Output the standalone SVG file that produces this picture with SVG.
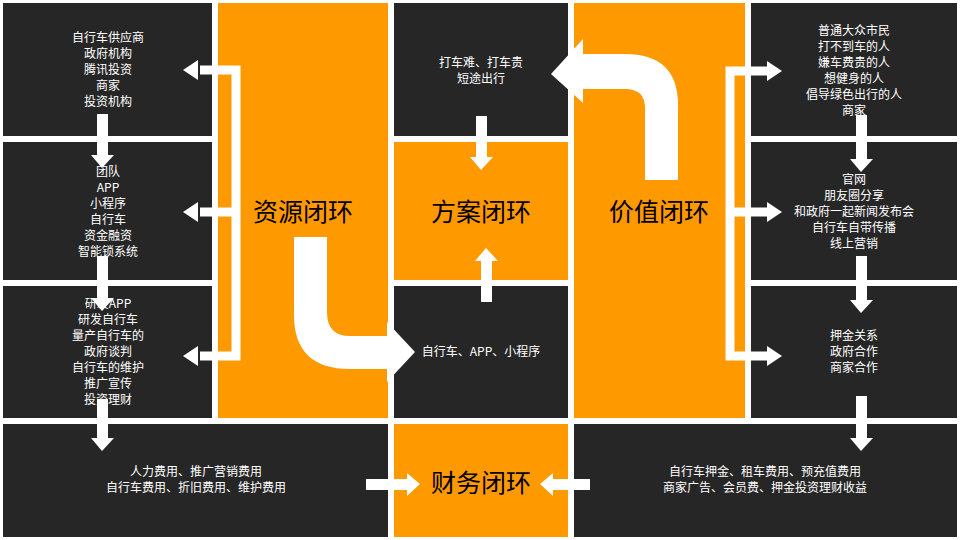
<svg xmlns="http://www.w3.org/2000/svg" width="960" height="540" viewBox="0 0 960 540">
<style>
.d{fill:#262626}.o{fill:#ff9900}
.t{font-family:"Noto Sans CJK SC","Liberation Sans",sans-serif;font-size:12px;fill:#fff;text-anchor:middle}
.h{font-family:"Noto Sans CJK SC","Liberation Sans",sans-serif;font-size:25px;fill:#000;text-anchor:middle}
.w{fill:#fff}.ln{fill:none;stroke:#fff;stroke-width:9}
</style>
<rect width="960" height="540" fill="#fff"/>
<g id="cells">
<rect class="d" x="3" y="3" width="209" height="133"/>
<rect class="d" x="3" y="142" width="209" height="138"/>
<rect class="d" x="3" y="286" width="209" height="132"/>
<rect class="o" x="218" y="3" width="170" height="415"/>
<rect class="d" x="394" y="3" width="174" height="133"/>
<rect class="o" x="394" y="142" width="174" height="138"/>
<rect class="d" x="394" y="286" width="174" height="132"/>
<rect class="o" x="574" y="3" width="171" height="415"/>
<rect class="d" x="751" y="3" width="206" height="133"/>
<rect class="d" x="751" y="142" width="206" height="138"/>
<rect class="d" x="751" y="286" width="206" height="132"/>
<rect class="d" x="3" y="424" width="385" height="113"/>
<rect class="o" x="394" y="424" width="174" height="113"/>
<rect class="d" x="574" y="424" width="383" height="113"/>
</g>
<g id="connectors">
<polyline class="ln" points="200,70 236,70 236,356 200,356"/><line class="ln" x1="200" y1="212" x2="236" y2="212"/>
<polygon class="w" points="183,70 198,60 198,80"/><polygon class="w" points="183,212 198,202 198,222"/><polygon class="w" points="183,356 198,346 198,366"/>
<polyline class="ln" points="767,71 730,71 730,356 767,356"/><line class="ln" x1="730" y1="212" x2="767" y2="212"/>
<polygon class="w" points="782,71 767,61 767,81"/><polygon class="w" points="782,212 767,202 767,222"/><polygon class="w" points="782,356 767,346 767,366"/>
<g class="w">
<rect x="97" y="114" width="11" height="42"/><polygon points="91,155 114,155 102,168"/>
<rect x="97" y="256" width="11" height="44"/><polygon points="91,298 114,298 102,311"/>
<rect x="97" y="399" width="11" height="40"/><polygon points="91,438 114,438 102,451"/>
<rect x="856" y="115" width="11" height="45"/><polygon points="850,159 873,159 861,172"/>
<rect x="856" y="256" width="11" height="45"/><polygon points="850,300 873,300 861,313"/>
<rect x="856" y="396" width="11" height="43"/><polygon points="850,438 873,438 861,451"/>
<rect x="476" y="116" width="11" height="42"/><polygon points="470,157 493,157 481,170"/>
<rect x="481" y="260" width="11" height="42"/><polygon points="475,261 498,261 486,248"/>
<rect x="366" y="479" width="42" height="11"/><polygon points="407,473 407,496 420,484"/>
<rect x="552" y="479" width="38" height="11"/><polygon points="553,473 553,496 540,484"/>
<path d="M294,237 H327 V312 Q327,336 350,336 H387 V322 L415,352 L387,382 V369 H350 Q294,369 294,315 Z"/>
<path d="M645,180 H678 V105 Q678,54 625,54 H583 V39 L551,74 L583,103 V89 H625 Q645,89 645,108 Z"/>
</g>
</g>
<g id="labels">
<text class="t" x="108" y="42">自行车供应商<tspan x="108" dy="16">政府机构</tspan><tspan x="108" dy="16">腾讯投资</tspan><tspan x="108" dy="16">商家</tspan><tspan x="108" dy="16">投资机构</tspan></text>
<text class="t" x="108" y="176">团队<tspan x="108" dy="16">APP</tspan><tspan x="108" dy="16">小程序</tspan><tspan x="108" dy="16">自行车</tspan><tspan x="108" dy="16">资金融资</tspan><tspan x="108" dy="16">智能锁系统</tspan></text>
<text class="t" x="108" y="308">研发APP<tspan x="108" dy="16">研发自行车</tspan><tspan x="108" dy="16">量产自行车的</tspan><tspan x="108" dy="16">政府谈判</tspan><tspan x="108" dy="16">自行车的维护</tspan><tspan x="108" dy="16">推广宣传</tspan><tspan x="108" dy="16">投资理财</tspan></text>
<text class="t" x="481" y="67">打车难、打车贵<tspan x="481" dy="16">短途出行</tspan></text>
<text class="t" x="481" y="356">自行车、APP、小程序</text>
<text class="t" x="854" y="35">普通大众市民<tspan x="854" dy="16">打不到车的人</tspan><tspan x="854" dy="16">嫌车费贵的人</tspan><tspan x="854" dy="16">想健身的人</tspan><tspan x="854" dy="16">倡导绿色出行的人</tspan><tspan x="854" dy="16">商家</tspan></text>
<text class="t" x="854" y="184">官网<tspan x="854" dy="16">朋友圈分享</tspan><tspan x="854" dy="16">和政府一起新闻发布会</tspan><tspan x="854" dy="16">自行车自带传播</tspan><tspan x="854" dy="16">线上营销</tspan></text>
<text class="t" x="854" y="340">押金关系<tspan x="854" dy="16">政府合作</tspan><tspan x="854" dy="16">商家合作</tspan></text>
<text class="t" x="196" y="476">人力费用、推广营销费用<tspan x="196" dy="16">自行车费用、折旧费用、维护费用</tspan></text>
<text class="t" x="765" y="476">自行车押金、租车费用、预充值费用<tspan x="765" dy="16">商家广告、会员费、押金投资理财收益</tspan></text>
<text class="h" x="303" y="221">资源闭环</text>
<text class="h" x="481" y="221">方案闭环</text>
<text class="h" x="659" y="221">价值闭环</text>
<text class="h" x="481" y="492">财务闭环</text>
</g>
</svg>
